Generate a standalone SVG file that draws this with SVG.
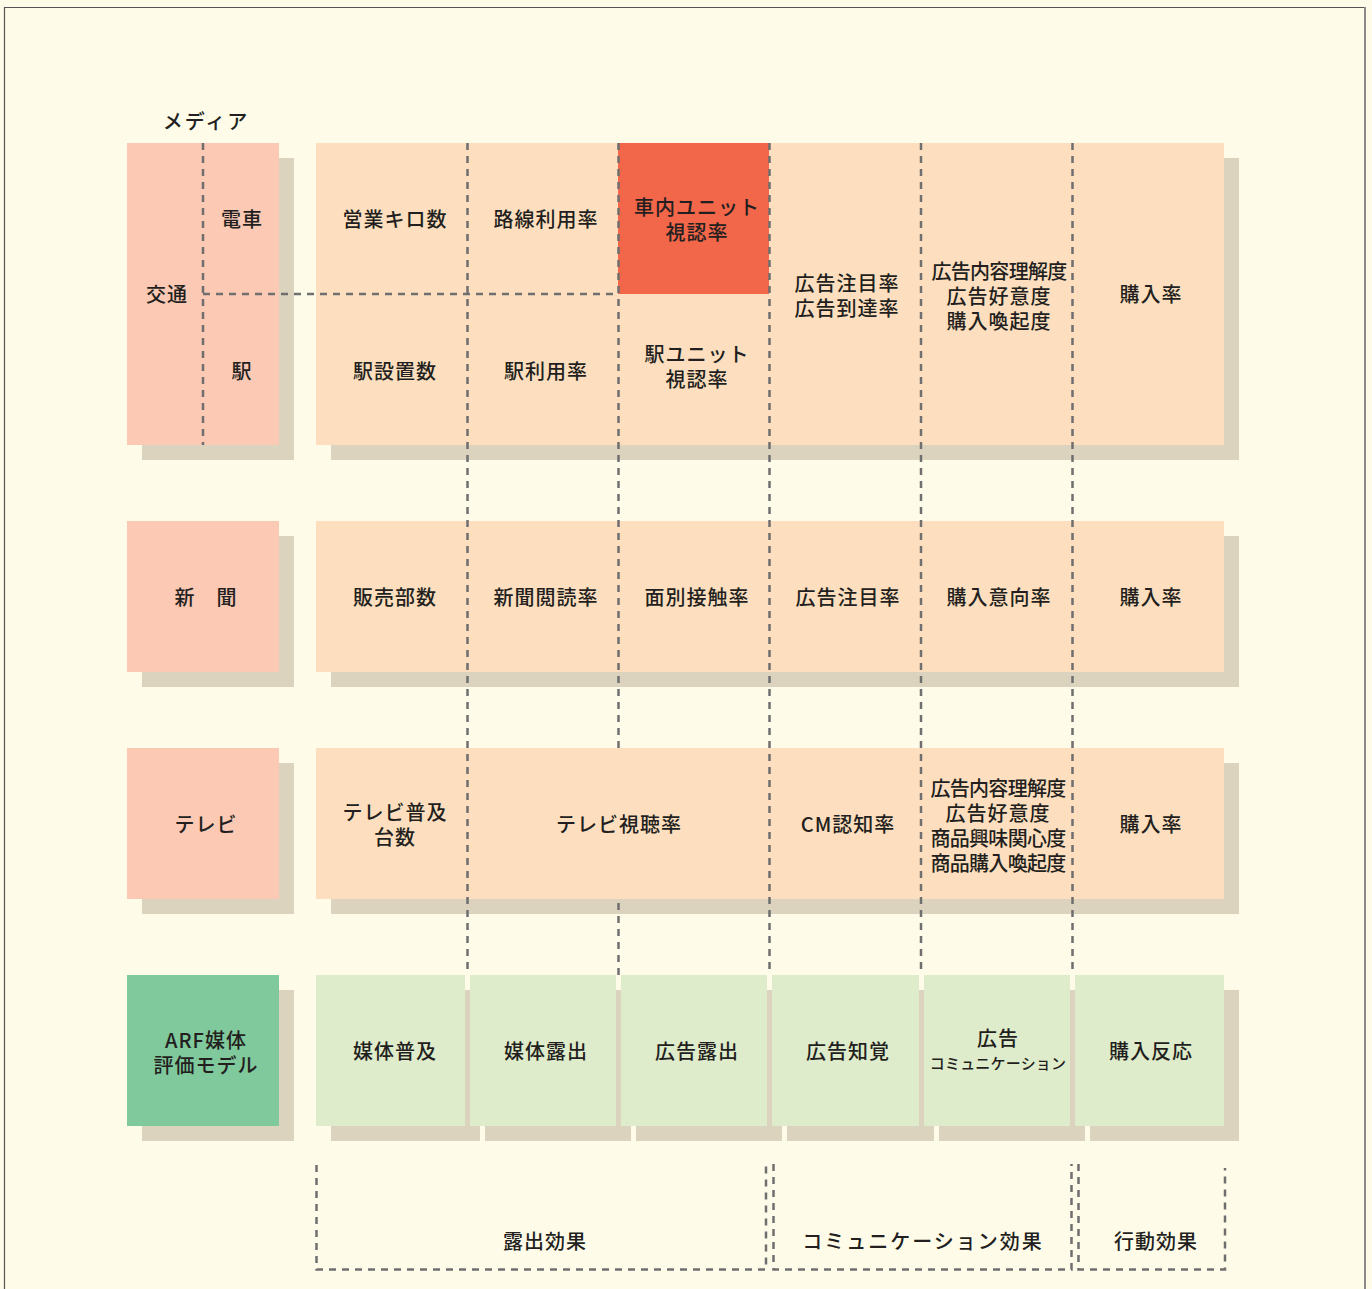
<svg xmlns="http://www.w3.org/2000/svg" width="1372" height="1289" viewBox="0 0 1372 1289">
<style>
.bg{fill:#FEFBE9}
.sh{fill:#DBD3BD}
.media{fill:#FBC9B4}
.cell{fill:#FDDFBF}
.hot{fill:#F26649}
.grn{fill:#DFECCB}
.arf{fill:#80C99C}
.dash{fill:none;stroke:#6F6F6F;stroke-width:2.5;stroke-dasharray:7 6}
text{font-family:"Noto Sans CJK JP","Noto Sans",sans-serif;font-size:20px;font-weight:500;fill:#231F20;text-anchor:middle;letter-spacing:1px}
.sm{font-size:15px;letter-spacing:0.2px}
.tight{letter-spacing:-0.7px}
</style>
<rect class="bg" x="0" y="0" width="1372" height="1289"/>
<path d="M4.5 1289 V7.5 H1365" fill="none" stroke="#555" stroke-width="1.2"/>
<path d="M1365 7 V1289" fill="none" stroke="#8A8A8A" stroke-width="2"/>
<text x="206" y="129" style="letter-spacing:2px">メディア</text>

<!-- shadows -->
<g id="shadows">
<rect class="sh" x="142" y="158" width="152" height="302"/>
<rect class="sh" x="331" y="158" width="908" height="302"/>
<rect class="sh" x="142" y="536" width="152" height="151"/>
<rect class="sh" x="331" y="536" width="908" height="151"/>
<rect class="sh" x="142" y="763" width="152" height="151"/>
<rect class="sh" x="331" y="763" width="908" height="151"/>
<rect class="sh" x="142" y="990" width="152" height="151"/>
<rect class="sh" x="331" y="990" width="149" height="151"/>
<rect class="sh" x="485" y="990" width="146" height="151"/>
<rect class="sh" x="636" y="990" width="146" height="151"/>
<rect class="sh" x="787" y="990" width="147" height="151"/>
<rect class="sh" x="939" y="990" width="146" height="151"/>
<rect class="sh" x="1090" y="990" width="149" height="151"/>
</g>

<g id="media-transport">
<rect class="media" x="127" y="143" width="152" height="302"/>
<text x="167" y="302">交通</text>
<text x="242" y="227">電車</text>
<text x="242" y="379">駅</text>
</g>
<g id="media-newspaper">
<rect class="media" x="127" y="521" width="152" height="151"/>
<text x="206" y="605">新　聞</text>
</g>
<g id="media-tv">
<rect class="media" x="127" y="748" width="152" height="151"/>
<text x="206" y="832">テレビ</text>
</g>
<g id="arf-model">
<rect class="arf" x="127" y="975" width="152" height="151"/>
<text x="206" y="1048">ARF媒体</text>
<text x="206" y="1073">評価モデル</text>
</g>

<g id="row-transport">
<rect class="cell" x="316" y="143" width="908" height="302"/>
<rect class="hot" x="618" y="143" width="151" height="151"/>
<text x="395" y="227">営業キロ数</text>
<text x="546" y="227">路線利用率</text>
<text x="697" y="215">車内ユニット</text>
<text x="697" y="240">視認率</text>
<text x="395" y="379">駅設置数</text>
<text x="546" y="379">駅利用率</text>
<text x="697" y="362">駅ユニット</text>
<text x="697" y="387">視認率</text>
<text x="847" y="291">広告注目率</text>
<text x="847" y="316">広告到達率</text>
<text x="999" y="279" class="tight">広告内容理解度</text>
<text x="999" y="304">広告好意度</text>
<text x="999" y="329">購入喚起度</text>
<text x="1151" y="302">購入率</text>
</g>

<g id="row-newspaper">
<rect class="cell" x="316" y="521" width="908" height="151"/>
<text x="395" y="605">販売部数</text>
<text x="546" y="605">新聞閲読率</text>
<text x="697" y="605">面別接触率</text>
<text x="848" y="605">広告注目率</text>
<text x="999" y="605">購入意向率</text>
<text x="1151" y="605">購入率</text>
</g>

<g id="row-tv">
<rect class="cell" x="316" y="748" width="908" height="151"/>
<text x="395" y="820">テレビ普及</text>
<text x="395" y="845">台数</text>
<text x="619" y="832">テレビ視聴率</text>
<text x="848" y="832">CM認知率</text>
<text x="998" y="796" class="tight">広告内容理解度</text>
<text x="998" y="821">広告好意度</text>
<text x="998" y="846" class="tight">商品興味関心度</text>
<text x="998" y="871" class="tight">商品購入喚起度</text>
<text x="1151" y="832">購入率</text>
</g>

<g id="row-arf">
<rect class="grn" x="316" y="975" width="149" height="151"/>
<rect class="grn" x="470" y="975" width="146" height="151"/>
<rect class="grn" x="621" y="975" width="146" height="151"/>
<rect class="grn" x="772" y="975" width="147" height="151"/>
<rect class="grn" x="924" y="975" width="146" height="151"/>
<rect class="grn" x="1075" y="975" width="149" height="151"/>
<text x="395" y="1059">媒体普及</text>
<text x="546" y="1059">媒体露出</text>
<text x="697" y="1059">広告露出</text>
<text x="848" y="1059">広告知覚</text>
<text x="998" y="1046">広告</text>
<text x="998" y="1069" class="sm">コミュニケーション</text>
<text x="1151" y="1059">購入反応</text>
</g>

<g id="connectors">
<path class="dash" d="M203 143 V445"/>
<path class="dash" d="M203 294 H618"/>
<path class="dash" d="M467.5 143 V975"/>
<path class="dash" d="M618.5 143 V748"/>
<path class="dash" d="M618.5 903 V975"/>
<path class="dash" d="M769.5 143 V975"/>
<path class="dash" d="M921 143 V975"/>
<path class="dash" d="M1072.5 143 V975"/>
</g>

<g id="effect-exposure">
<path class="dash" d="M316.5 1165 V1269.5 H766 V1165"/>
<text x="545" y="1249">露出効果</text>
</g>
<g id="effect-communication">
<path class="dash" d="M773.5 1164 V1269.5 H1071.5 V1164"/>
<text x="923" y="1249" style="letter-spacing:2px">コミュニケーション効果</text>
</g>
<g id="effect-action">
<path class="dash" d="M1078.5 1164 V1269.5 H1225 V1168"/>
<text x="1156" y="1249">行動効果</text>
</g>
</svg>
